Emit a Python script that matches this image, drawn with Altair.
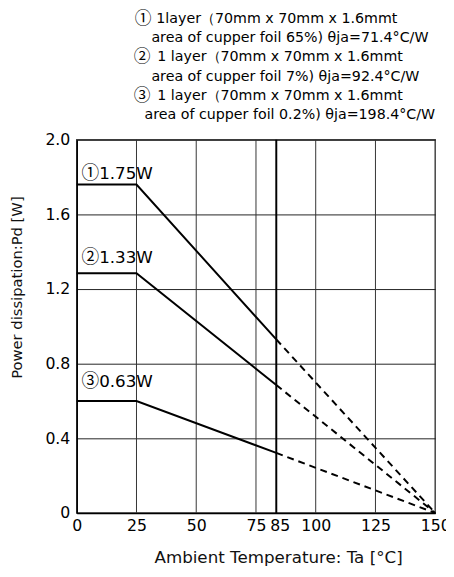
import altair as alt
import pandas as pd

# Data
series = ["1", "2", "3"]
flat_levels = [1.76, 1.285, 0.60]          # drawn level 0..25 degC
at_break = [0.93, 0.686, 0.322]            # value at the 85 degC marker line
break_x = 83.5
knee_x = 25
end_x = 150
curve_marks = ["①", "②", "③"]
curve_labels = ["1.75W", "1.33W", "0.63W"]
curve_label_y = [1.815, 1.365, 0.70]
curve_label_x = [2, 2, 2]
x_ticks = [0, 25, 50, 75, 85, 100, 125, 150]
x_grid = [25, 50, 75, 100, 125]
y_ticks = [0, 0.4, 0.8, 1.2, 1.6, 2.0]
header_lines = [
    "1layer（70mm x 70mm x 1.6mmt",
    "area of cupper foil 65%) θja=71.4°C/W",
    "1 layer（70mm x 70mm x 1.6mmt",
    "area of cupper foil 7%) θja=92.4°C/W",
    "1 layer（70mm x 70mm x 1.6mmt",
    "area of cupper foil 0.2%) θja=198.4°C/W",
]
header_x = [81, 76, 82, 76, 82, 69]
header_y = [-123, -104, -84, -64, -45, -25]
header_marks = ["①", "②", "③"]
header_mark_x = [59, 58, 58]
header_mark_y = [-123, -84, -45]

FONT = "DejaVu Sans"
CJK = "Noto Sans CJK JP"

solid_rows, dash_rows = [], []
for s, f, b in zip(series, flat_levels, at_break):
    solid_rows += [
        {"s": s, "o": 0, "x": 0, "y": f},
        {"s": s, "o": 1, "x": knee_x, "y": f},
        {"s": s, "o": 2, "x": break_x, "y": b},
    ]
    dash_rows += [
        {"s": s, "o": 0, "x": break_x, "y": b},
        {"s": s, "o": 1, "x": end_x, "y": 0},
    ]
solid = pd.DataFrame(solid_rows)
dashed = pd.DataFrame(dash_rows)
labels = pd.DataFrame({"x": curve_label_x, "y": curve_label_y,
                       "t": curve_labels, "m": curve_marks})
header = pd.DataFrame({"t": header_lines, "px": header_x, "py": header_y})
header_m = pd.DataFrame({"m": header_marks, "mx": header_mark_x, "my": header_mark_y})
marker = pd.DataFrame({"x": [break_x]})
grid = pd.DataFrame({"x": x_grid})

xscale = alt.Scale(domain=[0, 150], nice=False, zero=False)
yscale = alt.Scale(domain=[0, 2.0], nice=False)

xaxis = alt.Axis(
    values=x_ticks, title="Ambient Temperature: Ta [°C]", grid=False,
    ticks=False, domain=True,
    domainColor="#000", domainWidth=1.5, labelFont=FONT, labelFontSize=16,
    labelColor="#000", labelPadding=5, labelFlush=False,
    titleFont=FONT, titleFontSize=17, titleFontWeight="normal", titleColor="#111",
    titleX=205, titleY=45, titleAnchor="middle", titleBaseline="middle", labelOverlap=False,
)
yaxis = alt.Axis(
    values=y_ticks, title="Power dissipation:Pd [W]", grid=True,
    gridColor="#222", gridWidth=1, ticks=False, domain=True,
    domainColor="#000", domainWidth=1.5, labelFont=FONT, labelFontSize=16,
    labelColor="#000", labelPadding=7, labelFlush=False,
    labelExpr="datum.value == 0 ? '0' : format(datum.value, '.1f')",
    titleFont=FONT, titleFontSize=15, titleFontWeight="normal", titleColor="#111",
    titleX=-61, titleY=150, titleAngle=-90, titleAnchor="middle", titleBaseline="middle",
)

grid_layer = alt.Chart(grid).mark_rule(color="#333", strokeWidth=1).encode(
    x=alt.X("x:Q", scale=xscale),
)
solid_layer = alt.Chart(solid).mark_line(color="#000", strokeWidth=2).encode(
    x=alt.X("x:Q", scale=xscale, axis=xaxis),
    y=alt.Y("y:Q", scale=yscale, axis=yaxis),
    detail="s:N", order="o:Q",
)
dash_layer = alt.Chart(dashed).mark_line(color="#000", strokeWidth=2, strokeDash=[7, 5]).encode(
    x=alt.X("x:Q", scale=xscale), y=alt.Y("y:Q", scale=yscale),
    detail="s:N", order="o:Q",
)
marker_layer = alt.Chart(marker).mark_rule(color="#000", strokeWidth=2).encode(
    x=alt.X("x:Q", scale=xscale),
)
label_mark_layer = alt.Chart(labels).mark_text(
    align="left", baseline="middle", font=CJK, fontSize=18, color="#000"
).encode(x=alt.X("x:Q", scale=xscale), y=alt.Y("y:Q", scale=yscale), text="m:N")
label_layer = alt.Chart(labels).mark_text(
    align="left", baseline="middle", font=FONT, fontSize=17, color="#000", dx=18
).encode(x=alt.X("x:Q", scale=xscale), y=alt.Y("y:Q", scale=yscale), text="t:N")
header_mark_layer = alt.Chart(header_m).mark_text(
    align="left", baseline="middle", font=CJK, fontSize=17, color="#000"
).encode(x=alt.X("mx:Q", scale=None), y=alt.Y("my:Q", scale=None), text="m:N")
header_layer = alt.Chart(header).mark_text(
    align="left", baseline="middle", font=FONT, fontSize=14.5, color="#000"
).encode(x=alt.X("px:Q", scale=None), y=alt.Y("py:Q", scale=None), text="t:N")

chart = alt.layer(
    grid_layer, solid_layer, dash_layer, marker_layer,
    label_mark_layer, label_layer, header_mark_layer, header_layer
).properties(
    width=365, height=380,
    autosize=alt.AutoSizeParams(type="none"),
    padding={"left": 70, "top": 129, "right": 11, "bottom": 60},
    background="white",
).configure_view(stroke="#444", strokeWidth=1.5)

chart.save("out.html", embed_options={"renderer": "svg", "actions": False})
